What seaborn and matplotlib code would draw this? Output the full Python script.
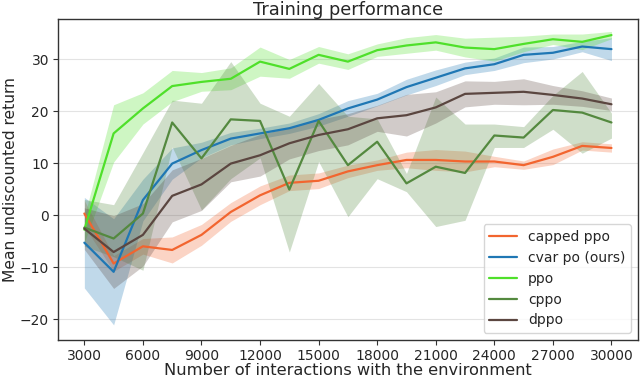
import numpy as np
import pandas as pd
import matplotlib
matplotlib.use("Agg")
import matplotlib.pyplot as plt
import seaborn as sns

# interactions with the environment (x axis)
steps = [3000, 4500, 6000, 7500, 9000, 10500, 12000, 13500, 15000, 16500,
         18000, 19500, 21000, 22500, 24000, 25500, 27000, 28500, 30000]

# capped ppo
capped_mean = [0.3, -9.3, -6.0, -6.7, -3.8, 0.6, 3.8, 6.2, 6.6, 8.4,
               9.6, 10.6, 10.6, 10.3, 10.3, 9.6, 11.2, 13.3, 12.9]
capped_std = [2.5, 1.5, 1.5, 2.5, 2.0, 1.8, 1.8, 1.5, 1.5, 1.2,
              1.0, 1.5, 2.0, 2.0, 1.0, 0.8, 1.5, 0.8, 0.8]

# cvar po (ours)
cvar_mean = [-5.3, -10.9, 2.9, 9.9, 12.5, 14.7, 15.7, 16.7, 18.3, 20.5,
             22.2, 24.6, 26.4, 28.2, 29.0, 30.8, 31.2, 32.4, 31.9]
cvar_std = [8.7, 10.2, 4.0, 3.0, 1.5, 1.2, 1.0, 1.0, 1.2, 1.5,
            1.2, 1.5, 1.5, 1.2, 1.2, 1.5, 1.2, 1.0, 2.2]

# ppo
ppo_mean = [-2.8, 15.7, 20.5, 24.8, 25.6, 26.2, 29.5, 28.1, 30.8, 29.5,
            31.7, 32.6, 33.2, 32.2, 31.9, 32.9, 33.8, 33.3, 34.6]
ppo_std = [2.5, 5.5, 3.0, 3.0, 1.8, 2.1, 2.8, 1.8, 1.6, 1.5,
           1.2, 1.5, 1.5, 1.8, 2.3, 1.5, 1.0, 1.5, 0.7]

# cppo (asymmetric band)
cppo_mean = [-2.4, -4.5, 0.3, 17.8, 10.9, 18.4, 18.1, 4.9, 18.1, 9.6,
             14.1, 6.1, 9.3, 8.1, 15.3, 14.9, 20.2, 19.7, 17.8]
cppo_lo = [-6.0, -8.0, -10.6, 13.1, 1.0, 7.0, 11.0, -7.1, 10.3, -0.3,
           7.0, 4.5, -2.2, -1.0, 13.0, 13.0, 16.5, 11.9, 14.8]
cppo_hi = [3.0, 2.0, 12.0, 22.1, 21.5, 29.5, 21.5, 19.0, 25.3, 19.0,
           18.5, 8.0, 22.7, 17.5, 17.5, 17.0, 23.0, 27.6, 19.6]

# dppo
dppo_mean = [-2.6, -7.1, -3.8, 3.7, 5.9, 9.9, 11.5, 13.8, 15.4, 16.5,
             18.6, 19.2, 20.7, 23.3, 23.5, 23.7, 23.1, 22.4, 21.3]
dppo_std = [4.0, 7.0, 6.0, 5.0, 5.0, 3.5, 4.0, 3.0, 3.0, 3.0,
            2.5, 4.0, 3.0, 2.5, 2.2, 2.5, 1.8, 1.5, 1.2]

labels = ["capped ppo", "cvar po (ours)", "ppo", "cppo", "dppo"]
colors = ["#f2652f", "#1f77b4", "#4fe02a", "#54893f", "#5b4640"]

means = [capped_mean, cvar_mean, ppo_mean, cppo_mean, dppo_mean]
lows = [np.array(capped_mean) - np.array(capped_std),
        np.array(cvar_mean) - np.array(cvar_std),
        np.array(ppo_mean) - np.array(ppo_std),
        np.array(cppo_lo),
        np.array(dppo_mean) - np.array(dppo_std)]
highs = [np.array(capped_mean) + np.array(capped_std),
         np.array(cvar_mean) + np.array(cvar_std),
         np.array(ppo_mean) + np.array(ppo_std),
         np.array(cppo_hi),
         np.array(dppo_mean) + np.array(dppo_std)]

df = pd.concat([pd.DataFrame({"steps": steps, "ret": m, "method": lab})
                for m, lab in zip(means, labels)], ignore_index=True)

sns.set_style("ticks")
plt.rcParams['font.family'] = ['DejaVu Sans']

fig = plt.figure(figsize=(6.4, 3.79), dpi=100)
ax = fig.add_axes([0.0906, 0.103, 0.906, 0.847])

for lab, col, lo, hi in zip(labels, colors, lows, highs):
    ax.fill_between(steps, lo, hi, color=col, alpha=0.28, linewidth=0)

sns.lineplot(data=df, x="steps", y="ret", hue="method", hue_order=labels,
             palette=colors, linewidth=1.6, ax=ax, errorbar=None)

ax.set_xticks(steps[::2])
ax.set_ylim(-24, 37.7)
ax.yaxis.grid(True, color="#e3e3e3", linewidth=0.8)
ax.set_axisbelow(True)
for s in ax.spines.values():
    s.set_color("#333333")
    s.set_linewidth(1.0)
ax.tick_params(labelsize=10, length=3.5, pad=3, color="#333333")

ax.set_title("Training performance", fontsize=12.8, pad=2)
ax.set_xlabel("Number of interactions with the environment", fontsize=11.7, labelpad=0)
ax.set_ylabel("Mean undiscounted return", fontsize=11.2, labelpad=1)
ax.legend(loc="lower right", fontsize=10, title=None)

plt.savefig("out.png", dpi=100)
